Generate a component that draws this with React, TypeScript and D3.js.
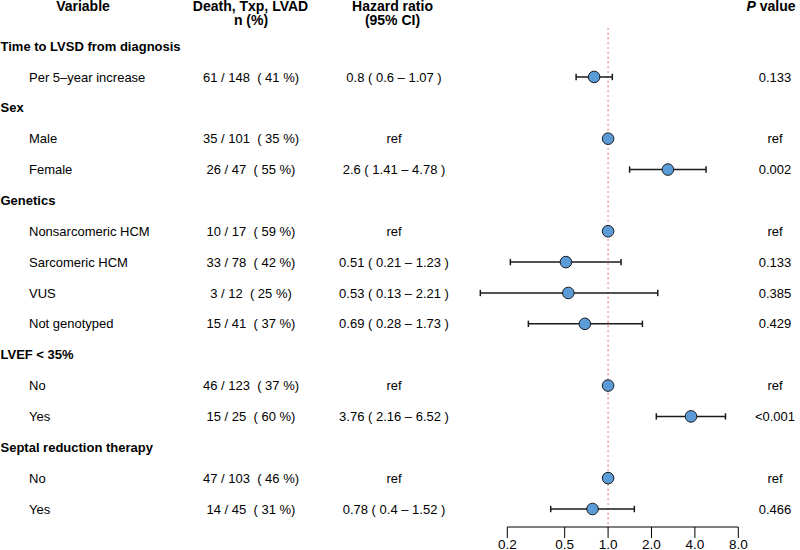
import React from "react";
import * as d3 from "d3";

const labels = [
  "Time to LVSD from diagnosis",
  "Per 5–year increase",
  "Sex",
  "Male",
  "Female",
  "Genetics",
  "Nonsarcomeric HCM",
  "Sarcomeric HCM",
  "VUS",
  "Not genotyped",
  "LVEF < 35%",
  "No",
  "Yes",
  "Septal reduction therapy",
  "No",
  "Yes",
];
const isGroup = [true, false, true, false, false, true, false, false, false, false, true, false, false, true, false, false];
const counts = ["", "61 / 148  ( 41 %)", "", "35 / 101  ( 35 %)", "26 / 47  ( 55 %)", "", "10 / 17  ( 59 %)", "33 / 78  ( 42 %)", "3 / 12  ( 25 %)", "15 / 41  ( 37 %)", "", "46 / 123  ( 37 %)", "15 / 25  ( 60 %)", "", "47 / 103  ( 46 %)", "14 / 45  ( 31 %)"];
const hrText = ["", "0.8 ( 0.6 – 1.07 )", "", "ref", "2.6 ( 1.41 – 4.78 )", "", "ref", "0.51 ( 0.21 – 1.23 )", "0.53 ( 0.13 – 2.21 )", "0.69 ( 0.28 – 1.73 )", "", "ref", "3.76 ( 2.16 – 6.52 )", "", "ref", "0.78 ( 0.4 – 1.52 )"];
const hr: (number | null)[] = [null, 0.8, null, 1, 2.6, null, 1, 0.51, 0.53, 0.69, null, 1, 3.76, null, 1, 0.78];
const lo: (number | null)[] = [null, 0.6, null, null, 1.41, null, null, 0.21, 0.13, 0.28, null, null, 2.16, null, null, 0.4];
const hi: (number | null)[] = [null, 1.07, null, null, 4.78, null, null, 1.23, 2.21, 1.73, null, null, 6.52, null, null, 1.52];
const pvals = ["", "0.133", "", "ref", "0.002", "", "ref", "0.133", "0.385", "0.429", "", "ref", "<0.001", "", "ref", "0.466"];
const ticks = [0.2, 0.5, 1, 2, 4, 8];
const tickLabels = ["0.2", "0.5", "1.0", "2.0", "4.0", "8.0"];

export default function App() {
  const W = 800, H = 550;
  const x = d3.scaleLog().domain([0.2, 8]).range([507.3, 738.3]);
  const y = d3.scaleLinear().domain([0, 15]).range([46.1, 509]);
  const font = "'Liberation Sans', Arial, Helvetica, sans-serif";
  const axisY = 527;
  return (
    <div style={{ position: "absolute", left: 0, top: 0 }}>
      <svg width={W} height={H} style={{ display: "block", fontFamily: font, fontSize: 13 }}>
        <rect width={W} height={H} fill="#fff" />
        {/* headers */}
        <g fontWeight="bold" fill="#000" fontSize={14}>
          <text x={83} y={10.5} textAnchor="middle">Variable</text>
          <text x={250.5} y={10.5} textAnchor="middle">Death, Txp, LVAD</text>
          <text x={251} y={24.5} textAnchor="middle">n (%)</text>
          <text x={392.5} y={10.5} textAnchor="middle">Hazard ratio</text>
          <text x={392.5} y={24.5} textAnchor="middle">(95% CI)</text>
          <text x={771} y={10.5} textAnchor="middle"><tspan fontStyle="italic">P</tspan> value</text>
        </g>
        {/* reference line */}
        <line x1={x(1)} x2={x(1)} y1={28} y2={531} stroke="#E8827C" strokeWidth={1.4} strokeDasharray="1.6,3.2" />
        {/* rows */}
        {labels.map((lab, i) => (
          <g key={i}>
            <text x={isGroup[i] ? 0.5 : 29} y={y(i)} dy="0.35em" fontWeight={isGroup[i] ? "bold" : "normal"} fill="#000">{lab}</text>
            {counts[i] && <text x={251} y={y(i)} dy="0.35em" textAnchor="middle" style={{ whiteSpace: "pre" }}>{counts[i]}</text>}
            {hrText[i] && <text x={394} y={y(i)} dy="0.35em" textAnchor="middle" style={{ whiteSpace: "pre" }}>{hrText[i]}</text>}
            {pvals[i] && <text x={775} y={y(i)} dy="0.35em" textAnchor="middle">{pvals[i]}</text>}
          </g>
        ))}
        {/* error bars */}
        {hr.map((v, i) => {
          if (v === null || lo[i] === null || hi[i] === null) return null;
          const yy = y(i);
          return (
            <g key={"e" + i} stroke="#1a1a1a" strokeWidth={1.5}>
              <line x1={x(lo[i] as number)} x2={x(hi[i] as number)} y1={yy} y2={yy} />
              <line x1={x(lo[i] as number)} x2={x(lo[i] as number)} y1={yy - 3.2} y2={yy + 3.2} />
              <line x1={x(hi[i] as number)} x2={x(hi[i] as number)} y1={yy - 3.2} y2={yy + 3.2} />
            </g>
          );
        })}
        {hr.map((v, i) => v === null ? null : (
          <circle key={"c" + i} cx={x(v)} cy={y(i)} r={5.8} fill="#5B9BD8" stroke="#1a1a1a" strokeWidth={1} />
        ))}
        {/* axis */}
        <g stroke="#000" strokeWidth={1}>
          <line x1={x(0.2)} x2={x(8)} y1={axisY} y2={axisY} />
          {ticks.map((t) => (
            <line key={t} x1={x(t)} x2={x(t)} y1={axisY} y2={axisY + 11} />
          ))}
        </g>
        {ticks.map((t, i) => (
          <text key={"t" + t} x={x(t)} y={548.5} textAnchor="middle" fontSize={13.5}>{tickLabels[i]}</text>
        ))}
      </svg>
    </div>
  );
}
